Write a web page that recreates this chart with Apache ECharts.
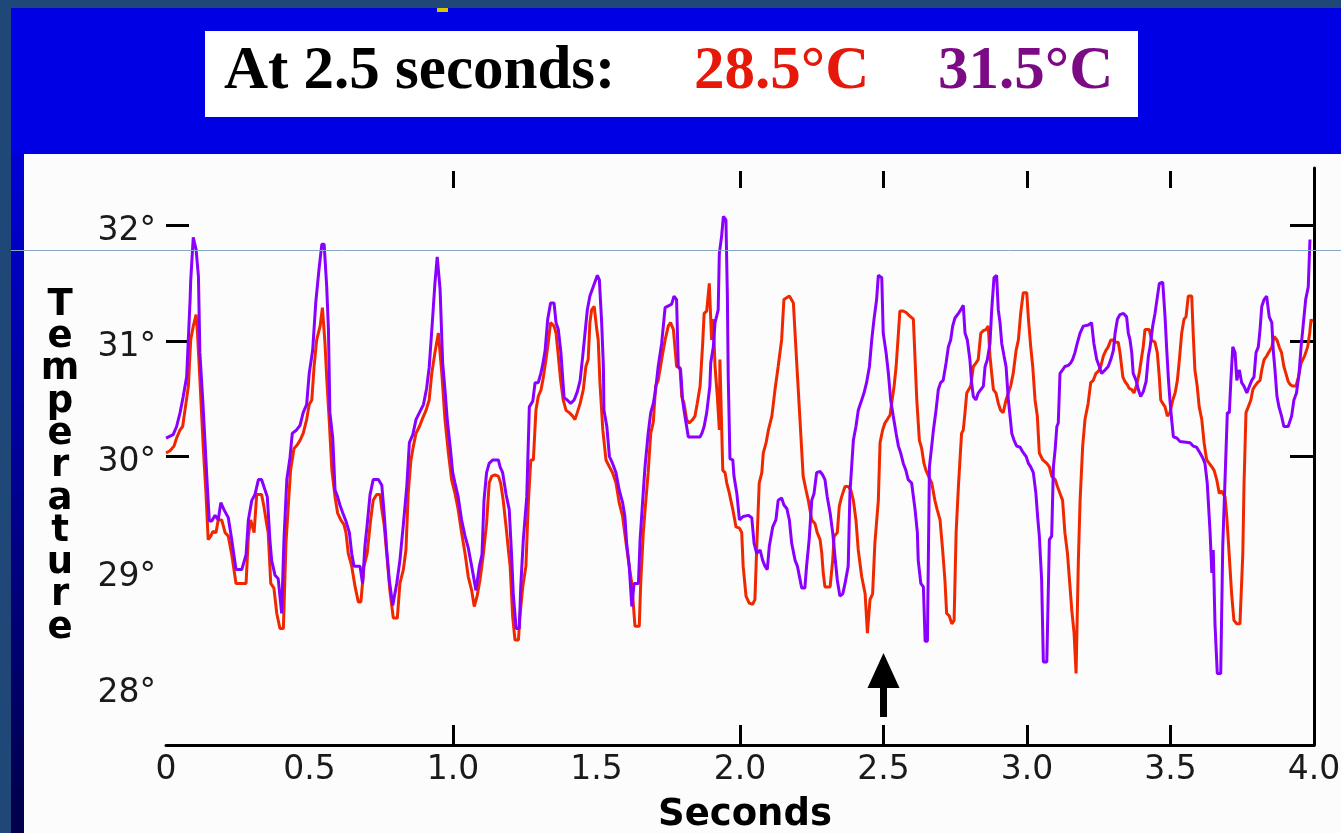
<!DOCTYPE html>
<html><head><meta charset="utf-8">
<script src="https://cdn.jsdelivr.net/npm/echarts@6/dist/echarts.min.js"></script>
<style>html,body{margin:0;padding:0;background:#1F4878;overflow:hidden}#c{width:1341px;height:833px}</style>
</head><body><div id="c"></div><script>
// ---- data (seconds, °C) ----
const redData = [
[0.000,30.03],[0.014,30.05],[0.028,30.09],[0.037,30.16],[0.049,30.23],[0.058,30.26],[0.066,30.40],[0.078,30.61],[0.086,31.01],[0.095,31.13],[0.105,31.23],[0.109,31.10],[0.116,30.77],[0.130,30.07],[0.139,29.69],[0.147,29.28],[0.156,29.31],[0.163,29.35],[0.174,29.34],[0.182,29.45],[0.194,29.45],[0.206,29.34],[0.217,29.31],[0.229,29.15],[0.244,28.90],[0.279,28.90],[0.287,29.31],[0.295,29.45],[0.307,29.34],[0.316,29.67],[0.333,29.67],[0.341,29.57],[0.351,29.41],[0.356,29.34],[0.365,28.90],[0.376,28.86],[0.386,28.64],[0.397,28.51],[0.409,28.51],[0.418,29.25],[0.426,29.57],[0.434,29.88],[0.446,30.07],[0.457,30.10],[0.467,30.14],[0.478,30.20],[0.490,30.32],[0.499,30.45],[0.508,30.49],[0.516,30.78],[0.525,31.01],[0.537,31.13],[0.545,31.29],[0.554,30.98],[0.560,30.68],[0.569,30.30],[0.578,29.88],[0.589,29.65],[0.598,29.51],[0.609,29.45],[0.620,29.41],[0.627,29.34],[0.635,29.16],[0.647,29.05],[0.659,28.87],[0.670,28.74],[0.679,28.74],[0.690,29.05],[0.701,29.16],[0.713,29.45],[0.722,29.62],[0.734,29.67],[0.746,29.67],[0.752,29.54],[0.760,29.41],[0.769,29.16],[0.780,28.84],[0.792,28.60],[0.806,28.60],[0.815,28.90],[0.827,29.02],[0.836,29.19],[0.844,29.68],[0.853,29.96],[0.862,30.09],[0.871,30.20],[0.883,30.26],[0.894,30.33],[0.906,30.40],[0.917,30.49],[0.926,30.72],[0.937,30.90],[0.949,31.07],[0.961,30.72],[0.972,30.32],[0.984,30.03],[0.995,29.80],[1.007,29.68],[1.018,29.54],[1.030,29.34],[1.042,29.16],[1.053,28.96],[1.065,28.84],[1.074,28.70],[1.084,28.79],[1.094,28.93],[1.106,29.16],[1.117,29.42],[1.126,29.77],[1.135,29.83],[1.146,29.84],[1.158,29.83],[1.166,29.77],[1.175,29.62],[1.185,29.39],[1.193,29.19],[1.199,29.05],[1.208,28.61],[1.216,28.41],[1.228,28.41],[1.233,28.61],[1.243,28.87],[1.254,29.05],[1.262,29.57],[1.271,29.97],[1.280,29.97],[1.289,30.40],[1.297,30.52],[1.307,30.58],[1.315,30.69],[1.324,30.84],[1.332,30.99],[1.340,31.16],[1.352,31.13],[1.359,31.07],[1.367,30.87],[1.375,30.66],[1.384,30.49],[1.394,30.40],[1.405,30.38],[1.417,30.35],[1.425,30.32],[1.433,30.38],[1.443,30.46],[1.454,30.58],[1.463,30.78],[1.471,30.84],[1.477,31.16],[1.483,31.27],[1.492,31.30],[1.501,31.10],[1.506,31.01],[1.512,30.64],[1.522,30.23],[1.533,29.97],[1.545,29.91],[1.556,29.86],[1.568,29.77],[1.579,29.60],[1.591,29.48],[1.603,29.25],[1.614,29.05],[1.623,28.90],[1.634,28.53],[1.649,28.53],[1.654,28.90],[1.663,29.34],[1.672,29.62],[1.680,29.86],[1.689,30.20],[1.698,30.30],[1.706,30.61],[1.715,30.66],[1.727,30.84],[1.739,31.01],[1.750,31.13],[1.758,31.16],[1.768,31.10],[1.779,30.78],[1.791,30.77],[1.797,30.52],[1.805,30.46],[1.814,30.32],[1.823,30.29],[1.835,30.32],[1.843,30.35],[1.851,30.46],[1.861,30.61],[1.870,30.98],[1.875,31.24],[1.884,31.26],[1.893,31.50],[1.901,31.01],[1.907,31.19],[1.913,30.78],[1.921,30.52],[1.928,30.23],[1.930,30.84],[1.940,29.88],[1.948,29.86],[1.954,29.77],[1.963,29.68],[1.975,29.54],[1.986,29.39],[1.998,29.38],[2.006,29.34],[2.011,29.05],[2.021,28.79],[2.032,28.73],[2.044,28.72],[2.052,28.76],[2.058,29.19],[2.067,29.77],[2.076,29.86],[2.081,30.03],[2.091,30.12],[2.099,30.23],[2.111,30.35],[2.122,30.58],[2.133,30.78],[2.145,31.01],[2.153,31.36],[2.172,31.39],[2.186,31.33],[2.197,30.84],[2.209,30.32],[2.220,29.83],[2.230,29.71],[2.238,29.62],[2.250,29.45],[2.261,29.42],[2.269,29.34],[2.279,29.28],[2.285,29.16],[2.290,28.99],[2.296,28.87],[2.314,28.87],[2.323,29.10],[2.328,29.31],[2.339,29.34],[2.346,29.57],[2.354,29.65],[2.366,29.74],[2.377,29.74],[2.386,29.71],[2.395,29.62],[2.404,29.45],[2.412,29.19],[2.424,28.96],[2.436,28.81],[2.444,28.47],[2.453,28.76],[2.462,28.81],[2.470,29.25],[2.482,29.62],[2.488,30.12],[2.497,30.23],[2.505,30.29],[2.513,30.32],[2.523,30.36],[2.530,30.49],[2.537,30.61],[2.544,30.78],[2.552,31.07],[2.557,31.26],[2.569,31.26],[2.578,31.25],[2.586,31.23],[2.595,31.21],[2.604,31.19],[2.610,30.84],[2.616,30.49],[2.625,30.14],[2.633,30.07],[2.641,29.94],[2.648,29.88],[2.668,29.77],[2.679,29.62],[2.687,29.54],[2.697,29.45],[2.706,29.19],[2.714,28.93],[2.720,28.64],[2.729,28.62],[2.738,28.55],[2.746,28.58],[2.753,29.34],[2.761,29.74],[2.772,30.20],[2.778,30.23],[2.784,30.38],[2.790,30.55],[2.796,30.56],[2.804,30.61],[2.813,30.78],[2.822,30.81],[2.830,30.84],[2.839,31.07],[2.848,31.09],[2.857,31.10],[2.865,31.13],[2.871,30.87],[2.877,30.72],[2.883,30.58],[2.892,30.55],[2.900,30.46],[2.908,30.40],[2.917,30.38],[2.927,30.49],[2.943,30.61],[2.952,30.72],[2.962,30.92],[2.970,31.01],[2.978,31.24],[2.987,31.42],[2.999,31.42],[3.005,31.19],[3.013,30.95],[3.020,30.78],[3.028,30.49],[3.036,30.35],[3.043,30.03],[3.055,29.97],[3.069,29.94],[3.078,29.91],[3.086,29.83],[3.098,29.80],[3.106,29.74],[3.115,29.68],[3.124,29.62],[3.132,29.34],[3.141,29.16],[3.148,28.93],[3.156,28.67],[3.164,28.47],[3.171,28.12],[3.179,29.10],[3.185,29.62],[3.194,30.09],[3.202,30.32],[3.213,30.46],[3.222,30.64],[3.231,30.66],[3.240,30.72],[3.249,30.74],[3.257,30.78],[3.266,30.87],[3.275,30.92],[3.283,30.95],[3.292,31.01],[3.299,31.01],[3.307,30.99],[3.318,30.99],[3.324,30.90],[3.334,30.69],[3.341,30.65],[3.350,30.62],[3.356,30.59],[3.365,30.58],[3.373,30.55],[3.382,30.62],[3.391,30.72],[3.400,30.87],[3.405,30.95],[3.411,31.10],[3.417,31.11],[3.426,31.10],[3.434,31.01],[3.446,30.99],[3.454,30.90],[3.461,30.69],[3.466,30.49],[3.473,30.46],[3.481,30.43],[3.489,30.35],[3.498,30.38],[3.508,30.49],[3.516,30.55],[3.524,30.66],[3.531,30.84],[3.539,31.07],[3.547,31.19],[3.554,31.21],[3.562,31.39],[3.574,31.39],[3.579,31.07],[3.585,30.75],[3.593,30.61],[3.600,30.43],[3.609,30.32],[3.617,30.12],[3.626,29.97],[3.635,29.94],[3.644,29.91],[3.652,29.88],[3.661,29.80],[3.670,29.68],[3.678,29.70],[3.690,29.65],[3.696,29.48],[3.702,29.25],[3.707,29.05],[3.713,28.81],[3.721,28.58],[3.731,28.55],[3.742,28.55],[3.752,29.16],[3.756,29.74],[3.763,30.38],[3.771,30.43],[3.780,30.49],[3.787,30.58],[3.794,30.61],[3.803,30.64],[3.812,30.66],[3.818,30.75],[3.826,30.84],[3.835,30.87],[3.844,30.91],[3.853,30.95],[3.861,31.04],[3.871,31.01],[3.880,30.94],[3.887,30.90],[3.895,30.78],[3.902,30.72],[3.910,30.65],[3.918,30.62],[3.927,30.61],[3.937,30.61],[3.946,30.69],[3.955,30.81],[3.967,30.87],[3.978,30.95],[3.985,31.07],[3.990,31.19],[3.994,31.16]
];
const purpleData = [
[0.000,30.16],[0.025,30.19],[0.037,30.26],[0.049,30.38],[0.060,30.52],[0.072,30.69],[0.084,31.36],[0.086,31.52],[0.095,31.90],[0.105,31.79],[0.113,31.56],[0.118,30.90],[0.128,30.49],[0.136,30.12],[0.144,29.74],[0.151,29.44],[0.159,29.44],[0.171,29.49],[0.182,29.45],[0.191,29.60],[0.202,29.54],[0.217,29.47],[0.229,29.28],[0.244,29.02],[0.264,29.02],[0.279,29.15],[0.287,29.45],[0.299,29.62],[0.310,29.67],[0.322,29.80],[0.333,29.80],[0.341,29.74],[0.353,29.65],[0.362,29.28],[0.368,29.10],[0.380,28.97],[0.391,28.94],[0.403,28.64],[0.411,29.28],[0.421,29.80],[0.432,29.99],[0.440,30.20],[0.455,30.23],[0.467,30.27],[0.478,30.38],[0.490,30.45],[0.499,30.72],[0.511,30.92],[0.522,31.34],[0.533,31.62],[0.543,31.84],[0.551,31.84],[0.560,31.47],[0.566,31.10],[0.571,30.38],[0.581,30.16],[0.589,29.71],[0.598,29.65],[0.606,29.58],[0.616,29.51],[0.627,29.44],[0.639,29.34],[0.647,29.16],[0.655,29.05],[0.676,29.05],[0.685,28.90],[0.693,29.22],[0.701,29.41],[0.711,29.67],[0.722,29.80],[0.740,29.80],[0.752,29.75],[0.760,29.51],[0.769,29.19],[0.778,28.93],[0.790,28.71],[0.804,28.90],[0.815,29.10],[0.827,29.41],[0.839,29.74],[0.848,30.12],[0.860,30.19],[0.871,30.32],[0.883,30.38],[0.897,30.45],[0.908,30.59],[0.917,30.77],[0.929,31.20],[0.937,31.50],[0.945,31.73],[0.955,31.45],[0.964,30.81],[0.972,30.58],[0.980,30.32],[0.990,30.09],[0.999,29.86],[1.007,29.77],[1.018,29.65],[1.030,29.45],[1.042,29.31],[1.053,29.21],[1.065,29.05],[1.080,28.84],[1.092,29.05],[1.101,29.15],[1.108,29.62],[1.117,29.86],[1.126,29.94],[1.138,29.97],[1.158,29.97],[1.164,29.91],[1.173,29.86],[1.185,29.67],[1.196,29.54],[1.205,29.10],[1.210,28.81],[1.220,28.51],[1.231,28.51],[1.236,28.87],[1.245,29.28],[1.257,29.65],[1.266,30.43],[1.278,30.48],[1.286,30.64],[1.297,30.64],[1.306,30.72],[1.313,30.80],[1.321,30.92],[1.330,31.19],[1.340,31.33],[1.352,31.33],[1.359,31.16],[1.367,31.10],[1.376,30.90],[1.387,30.51],[1.398,30.49],[1.410,30.46],[1.422,30.49],[1.433,30.56],[1.443,30.66],[1.452,30.87],[1.460,31.07],[1.468,31.27],[1.477,31.39],[1.487,31.46],[1.503,31.57],[1.510,31.53],[1.518,31.16],[1.524,30.78],[1.526,30.40],[1.536,30.26],[1.545,30.00],[1.556,29.94],[1.568,29.86],[1.579,29.71],[1.591,29.60],[1.599,29.48],[1.605,29.25],[1.614,29.05],[1.623,28.70],[1.631,28.90],[1.646,28.90],[1.652,29.28],[1.661,29.62],[1.669,29.91],[1.680,30.20],[1.689,30.38],[1.698,30.46],[1.706,30.58],[1.715,30.78],[1.727,30.98],[1.739,31.29],[1.754,31.31],[1.762,31.32],[1.770,31.39],[1.779,31.36],[1.785,30.78],[1.793,30.75],[1.800,30.49],[1.805,30.40],[1.814,30.26],[1.820,30.17],[1.861,30.17],[1.867,30.20],[1.875,30.26],[1.884,30.38],[1.895,30.61],[1.898,30.81],[1.907,30.95],[1.913,31.16],[1.924,31.27],[1.928,31.76],[1.936,31.91],[1.942,32.08],[1.951,32.05],[1.956,31.39],[1.959,30.69],[1.965,29.98],[1.975,29.97],[1.979,29.83],[1.989,29.68],[1.998,29.45],[2.011,29.48],[2.029,29.49],[2.041,29.47],[2.049,29.25],[2.058,29.16],[2.070,29.19],[2.079,29.10],[2.087,29.05],[2.095,29.02],[2.102,29.22],[2.114,29.39],[2.125,29.45],[2.133,29.62],[2.145,29.64],[2.153,29.58],[2.163,29.55],[2.172,29.45],[2.180,29.25],[2.192,29.10],[2.200,29.05],[2.215,28.86],[2.226,28.86],[2.232,29.05],[2.241,29.28],[2.250,29.62],[2.258,29.68],[2.267,29.86],[2.279,29.87],[2.288,29.84],[2.296,29.80],[2.304,29.65],[2.314,29.51],[2.323,29.34],[2.331,29.13],[2.339,28.93],[2.348,28.79],[2.358,28.81],[2.366,28.90],[2.377,29.05],[2.383,29.68],[2.389,29.91],[2.395,30.14],[2.404,30.26],[2.412,30.40],[2.424,30.49],[2.432,30.55],[2.441,30.64],[2.451,30.78],[2.459,31.01],[2.467,31.19],[2.476,31.36],[2.482,31.57],[2.494,31.55],[2.499,31.07],[2.509,30.90],[2.517,30.72],[2.525,30.49],[2.534,30.35],[2.544,30.20],[2.552,30.09],[2.560,30.03],[2.569,29.94],[2.578,29.88],[2.586,29.80],[2.598,29.77],[2.610,29.54],[2.618,29.34],[2.621,29.10],[2.630,28.90],[2.639,28.87],[2.645,28.40],[2.653,28.40],[2.660,29.91],[2.668,30.09],[2.674,30.23],[2.683,30.40],[2.691,30.58],[2.699,30.64],[2.708,30.66],[2.718,30.81],[2.726,30.95],[2.734,31.01],[2.741,31.13],[2.749,31.20],[2.761,31.24],[2.769,31.27],[2.778,31.31],[2.784,31.07],[2.792,31.01],[2.801,30.84],[2.807,30.64],[2.813,30.52],[2.822,30.49],[2.830,30.55],[2.839,30.58],[2.848,30.61],[2.854,30.78],[2.862,30.84],[2.871,30.98],[2.877,31.27],[2.885,31.55],[2.894,31.57],[2.900,31.27],[2.906,31.16],[2.912,30.98],[2.920,30.87],[2.927,30.78],[2.935,30.49],[2.941,30.35],[2.947,30.20],[2.955,30.14],[2.964,30.09],[2.976,30.08],[2.985,30.04],[2.997,30.00],[3.005,29.94],[3.013,29.91],[3.022,29.86],[3.031,29.68],[3.037,29.48],[3.043,29.31],[3.051,28.93],[3.057,28.22],[3.069,28.22],[3.078,29.28],[3.086,29.31],[3.092,29.91],[3.098,30.06],[3.104,30.26],[3.109,30.29],[3.115,30.72],[3.124,30.75],[3.132,30.78],[3.144,30.79],[3.152,30.81],[3.159,30.84],[3.167,30.90],[3.175,30.98],[3.185,31.07],[3.196,31.13],[3.214,31.14],[3.225,31.16],[3.233,30.98],[3.243,30.84],[3.252,30.78],[3.260,30.72],[3.272,30.75],[3.283,30.78],[3.292,30.84],[3.301,30.92],[3.307,31.07],[3.315,31.19],[3.324,31.23],[3.336,31.24],[3.347,31.21],[3.353,31.07],[3.359,31.01],[3.365,30.90],[3.370,30.72],[3.380,30.66],[3.388,30.58],[3.396,30.52],[3.405,30.56],[3.415,30.65],[3.423,30.87],[3.429,30.95],[3.438,31.13],[3.446,31.24],[3.461,31.50],[3.473,31.51],[3.481,31.21],[3.487,30.92],[3.493,30.66],[3.498,30.49],[3.504,30.32],[3.510,30.17],[3.522,30.16],[3.533,30.13],[3.568,30.12],[3.579,30.09],[3.591,30.08],[3.603,30.03],[3.612,29.99],[3.620,29.94],[3.628,29.77],[3.632,29.60],[3.638,29.34],[3.644,28.99],[3.649,29.19],[3.655,28.55],[3.663,28.12],[3.675,28.12],[3.682,29.22],[3.690,29.80],[3.698,30.38],[3.705,30.38],[3.710,30.64],[3.717,30.95],[3.725,30.90],[3.731,30.66],[3.740,30.75],[3.748,30.64],[3.756,30.61],[3.766,30.55],[3.775,30.61],[3.783,30.66],[3.791,30.69],[3.798,30.90],[3.806,30.95],[3.812,31.10],[3.818,31.30],[3.826,31.36],[3.835,31.39],[3.844,31.21],[3.853,31.16],[3.858,30.92],[3.864,30.75],[3.871,30.52],[3.878,30.43],[3.887,30.35],[3.895,30.26],[3.910,30.26],[3.922,30.35],[3.930,30.49],[3.939,30.55],[3.948,30.72],[3.955,30.95],[3.962,31.13],[3.971,31.36],[3.980,31.47],[3.986,31.88]
];
const xTickMarks = [1, 2, 2.5, 3, 3.5];
const yLabelValues = [28, 29, 30, 31, 32];
const yTickMarks = [30, 31, 32];
const arrowPoint = [2.5, 28.02];
const titleText = 'At 2.5 seconds:';
const redReading = '28.5°C';
const purpleReading = '31.5°C';
const xName = 'Seconds';
const yName = 'Temperature';

const chart = echarts.init(document.getElementById('c'), null, {renderer: 'canvas'});
const tickStyle = {color: '#000', width: 3};
const option = {
  animation: false,
  backgroundColor: 'transparent',
  grid: {left: 166, top: 168, width: 1148, height: 577, containLabel: false, outerBoundsMode: 'none'},
  xAxis: [{
    type: 'value', min: 0, max: 4, interval: 0.5, position: 'bottom',
    axisLine: {show: true, onZero: false, lineStyle: {color: '#000', width: 3}},
    axisTick: {show: true, inside: true, length: 20, customValues: xTickMarks, lineStyle: tickStyle},
    axisLabel: {color: '#1a1a1a', fontFamily: 'DejaVu Sans', fontSize: 33, margin: 9,
      formatter: v => v === 0 ? '0' : v.toFixed(1)},
    splitLine: {show: false},
    name: xName, nameLocation: 'middle', nameGap: 52,
    nameTextStyle: {color: '#000', fontFamily: 'DejaVu Sans', fontWeight: 'bold', fontSize: 37, padding: [0, 0, 0, 10]}
  }, {
    type: 'value', min: 0, max: 4, position: 'top', offset: -3,
    axisLine: {show: false, onZero: false},
    axisTick: {show: true, inside: true, length: 17, customValues: xTickMarks, lineStyle: tickStyle},
    axisLabel: {show: false}, splitLine: {show: false}
  }],
  yAxis: [{
    type: 'value', min: 27.5, max: 32.5, position: 'left',
    axisLine: {show: false, onZero: false},
    axisTick: {show: true, inside: true, length: 23, customValues: yTickMarks, lineStyle: tickStyle},
    axisLabel: {color: '#1a1a1a', fontFamily: 'DejaVu Sans', fontSize: 33, margin: 10,
      verticalAlign: 'top', lineHeight: 12,
      customValues: yLabelValues, formatter: v => v + '°'},
    splitLine: {show: false}
  }, {
    type: 'value', min: 27.5, max: 32.5, position: 'right',
    axisLine: {show: true, onZero: false, lineStyle: {color: '#000', width: 3}},
    axisTick: {show: true, inside: true, length: 24, customValues: yTickMarks, lineStyle: tickStyle},
    axisLabel: {show: false}, splitLine: {show: false}
  }],
  series: [{
    type: 'line', data: redData, showSymbol: false, z: 3,
    lineStyle: {color: '#F02800', width: 3}, itemStyle: {color: '#F02800'}
  }, {
    type: 'line', data: purpleData, showSymbol: false, z: 4,
    lineStyle: {color: '#8A00FF', width: 3}, itemStyle: {color: '#8A00FF'}
  }, {
    type: 'scatter', data: [arrowPoint], z: 6, silent: true,
    symbol: 'path://M16,0 L32,35 L19.5,35 L19.5,64 L12.5,64 L12.5,35 L0,35 Z',
    symbolSize: [32, 64], itemStyle: {color: '#000', opacity: 1}
  }],
  graphic: [
    {type: 'rect', z: -30, shape: {x: 0, y: 0, width: 1341, height: 833}, style: {fill: '#1F4878'}},
    {type: 'rect', z: -29, shape: {x: 11, y: 8, width: 1330, height: 825}, style: {fill: '#0000E4'}},
    {type: 'rect', z: -28, shape: {x: 11, y: 154, width: 13, height: 679},
      style: {fill: new echarts.graphic.LinearGradient(0, 0, 0, 1, [{offset: 0, color: '#0000D6'}, {offset: 1, color: '#00004A'}])}},
    {type: 'rect', z: -28, shape: {x: 24, y: 154, width: 1317, height: 679}, style: {fill: '#FCFCFC'}},
    {type: 'rect', z: -28, shape: {x: 205, y: 31, width: 933, height: 86}, style: {fill: '#FFFFFF'}},
    {type: 'rect', z: -27, shape: {x: 437, y: 8, width: 11, height: 4}, style: {fill: '#D8C800'}},
    {type: 'text', z: 20, x: 224, y: 72, style: {text: titleText, fill: '#000', font: 'bold 61px "Liberation Serif"', align: 'left', verticalAlign: 'middle'}},
    {type: 'text', z: 20, x: 694, y: 72, style: {text: redReading, fill: '#E5180A', font: 'bold 61px "Liberation Serif"', align: 'left', verticalAlign: 'middle'}},
    {type: 'text', z: 20, x: 938, y: 72, style: {text: purpleReading, fill: '#7D0A85', font: 'bold 61px "Liberation Serif"', align: 'left', verticalAlign: 'middle'}},
    {type: 'text', z: 20, x: 60, y: 289, style: {text: yName.split('').join('\n'), fill: '#000', font: 'bold 37px "DejaVu Sans"', align: 'center', verticalAlign: 'top', lineHeight: 32.3}},
    {type: 'line', z: 50, shape: {x1: 11, y1: 250.5, x2: 1341, y2: 250.5}, style: {stroke: '#8CA6C6', lineWidth: 1}}
  ]
};
chart.setOption(option);
</script></body></html>
